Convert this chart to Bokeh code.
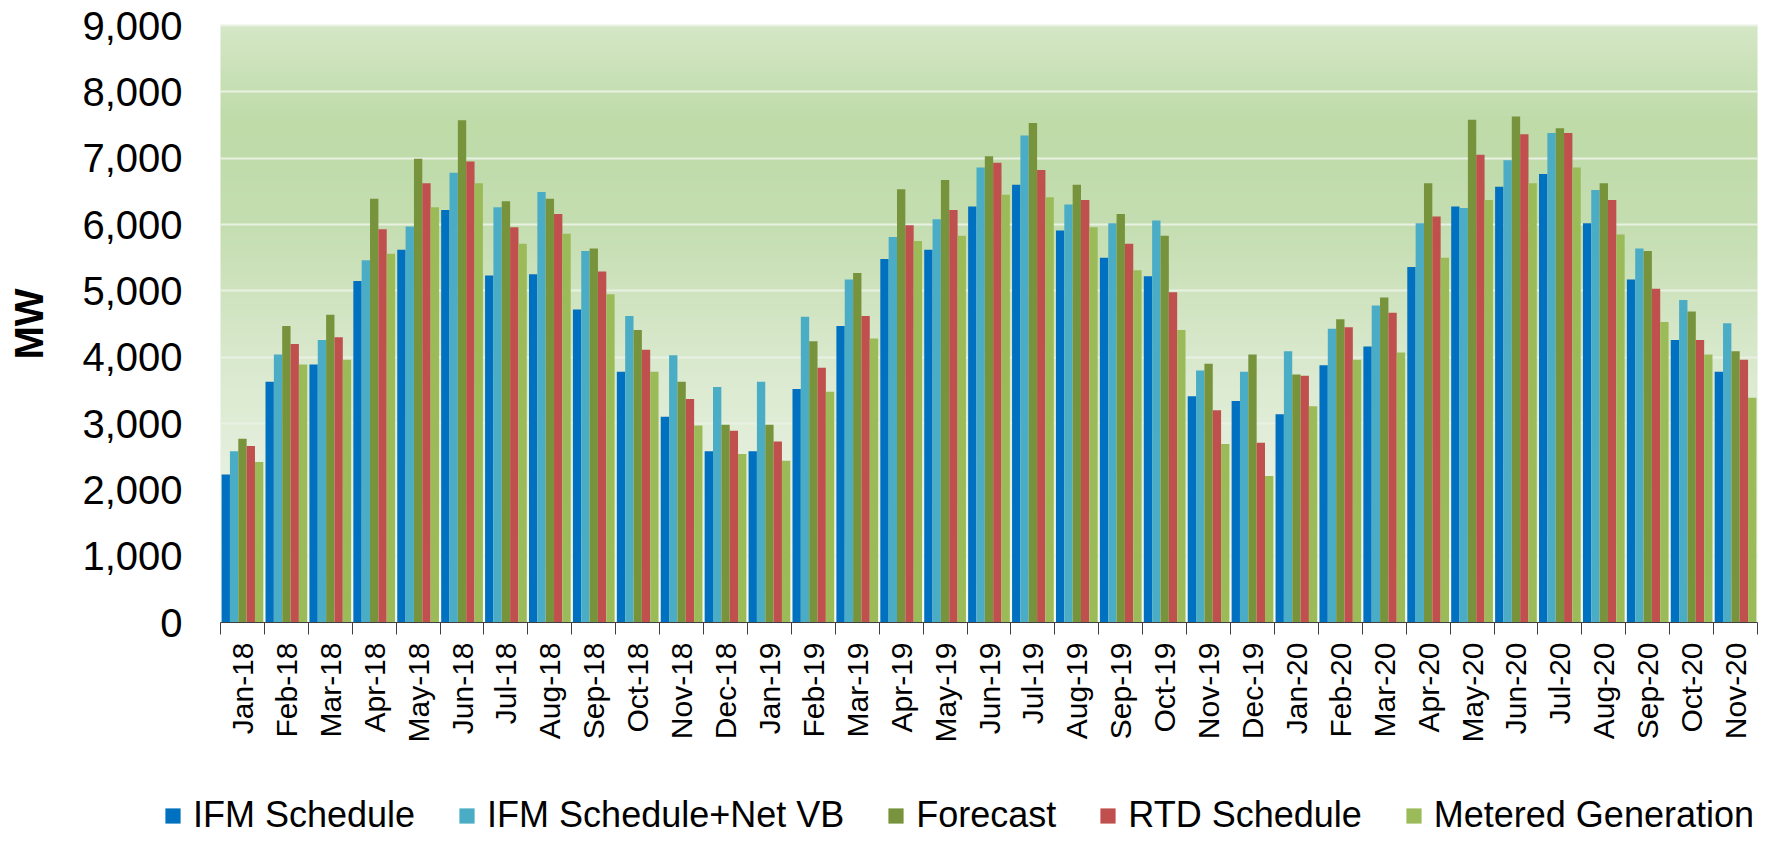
import math
import numpy as np
from bokeh.plotting import figure
from bokeh.models import ColumnDataSource, Range1d, FixedTicker, NumeralTickFormatter, Legend, LegendItem
from bokeh.transform import dodge
from bokeh.embed import file_html
from bokeh.resources import INLINE

months = ["Jan-18", "Feb-18", "Mar-18", "Apr-18", "May-18", "Jun-18", "Jul-18", "Aug-18",
          "Sep-18", "Oct-18", "Nov-18", "Dec-18", "Jan-19", "Feb-19", "Mar-19", "Apr-19",
          "May-19", "Jun-19", "Jul-19", "Aug-19", "Sep-19", "Oct-19", "Nov-19", "Dec-19",
          "Jan-20", "Feb-20", "Mar-20", "Apr-20", "May-20", "Jun-20", "Jul-20", "Aug-20",
          "Sep-20", "Oct-20", "Nov-20"]

ifm_schedule = [2230, 3630, 3890, 5150, 5620, 6220, 5230, 5250, 4720, 3780, 3100, 2580,
                2580, 3520, 4470, 5480, 5620, 6270, 6600, 5910, 5500, 5220, 3410, 3340,
                3140, 3880, 4160, 5360, 6270, 6570, 6760, 6020, 5170, 4260, 3780]
ifm_schedule_vb = [2580, 4040, 4260, 5460, 5970, 6780, 6260, 6490, 5600, 4620, 4030, 3550,
                   3630, 4610, 5170, 5810, 6080, 6860, 7340, 6300, 6020, 6060, 3800, 3780,
                   4090, 4430, 4780, 6020, 6250, 6970, 7380, 6520, 5640, 4860, 4510]
forecast = [2770, 4470, 4640, 6390, 6990, 7570, 6350, 6390, 5640, 4410, 3630, 2980,
            2980, 4240, 5270, 6530, 6670, 7030, 7530, 6600, 6160, 5830, 3900, 4040,
            3740, 4570, 4900, 6620, 7580, 7630, 7450, 6620, 5600, 4690, 4090]
rtd_schedule = [2660, 4200, 4300, 5930, 6620, 6950, 5960, 6160, 5290, 4110, 3370, 2890,
                2730, 3840, 4620, 5990, 6220, 6930, 6820, 6370, 5710, 4980, 3200, 2710,
                3720, 4450, 4670, 6120, 7050, 7360, 7380, 6370, 5030, 4260, 3960]
metered_generation = [2420, 3890, 3960, 5560, 6260, 6620, 5710, 5860, 4950, 3780, 2970, 2540,
                      2440, 3480, 4280, 5750, 5830, 6450, 6410, 5960, 5310, 4410, 2690, 2210,
                      3260, 3960, 4070, 5500, 6370, 6620, 6860, 5850, 4530, 4040, 3390]

series_names = ["IFM Schedule", "IFM Schedule+Net VB", "Forecast", "RTD Schedule", "Metered Generation"]
series_keys = ["ifm", "ifmvb", "fc", "rtd", "met"]
series_colors = ["#0070C0", "#4BACC6", "#77933C", "#C0504D", "#9BBB59"]

source = ColumnDataSource(dict(
    x=list(range(len(months))),
    ifm=ifm_schedule, ifmvb=ifm_schedule_vb, fc=forecast, rtd=rtd_schedule, met=metered_generation,
))

FONT = "Liberation Sans"

# figure geometry (pixels inside the figure)
W, H = 1787, 842
PL, PR = 220.0, 1757.0      # plot area left / right
PT, PB = 25.0, 622.0        # plot area top (9000) / bottom (0)
n = len(months)
YMAX = 9000
xs_per_px = n / (PR - PL)
ys_per_px = YMAX / (PB - PT)
x_start = -0.5 - PL * xs_per_px
x_end = n - 0.5 + (W - PR) * xs_per_px
y_start = -(H - PB) * ys_per_px
y_end = YMAX + PT * ys_per_px

p = figure(width=W, height=H, output_backend="svg", toolbar_location=None,
           x_range=Range1d(x_start, x_end), y_range=Range1d(y_start, y_end),
           min_border=0)
p.background_fill_color = "white"
p.border_fill_color = "white"
p.outline_line_color = None

# vertical gradient background of the plot area
ny = 400
ys = np.linspace(0, YMAX, ny)
sv = [0, 2000, 4000, 6000, 7500, 9000]
rr = np.interp(ys, sv, [247, 232, 217, 197, 190, 213])
gg = np.interp(ys, sv, [250, 241, 233, 222, 219, 231])
bb = np.interp(ys, sv, [244, 225, 205, 177, 168, 199])
img = np.empty((ny, 2), dtype=np.uint32)
view = img.view(dtype=np.uint8).reshape((ny, 2, 4))
view[:, :, 0] = rr[:, None]
view[:, :, 1] = gg[:, None]
view[:, :, 2] = bb[:, None]
view[:, :, 3] = 255
bg = p.image_rgba(image=[img], x=-0.5, y=0, dw=n, dh=YMAX)
bg.level = "image"

p.xgrid.visible = False
p.ygrid.ticker = FixedTicker(ticks=list(range(1000, YMAX + 1, 1000)))
p.ygrid.grid_line_color = "#e9f1e3"
p.ygrid.grid_line_width = 2
try:
    p.ygrid.cross_bounds = (-0.5, n - 0.5)
except Exception:
    p.ygrid.visible = False
    p.segment(x0=-0.5, x1=n - 0.5, y0=list(range(1000, YMAX + 1, 1000)),
              y1=list(range(1000, YMAX + 1, 1000)), line_color="#e9f1e3", line_width=2,
              level="underlay")

bw = 0.19
offsets = [-2 * bw, -bw, 0, bw, 2 * bw]
items = []
for key, name, col, off in zip(series_keys, series_names, series_colors, offsets):
    r = p.vbar(x=dodge("x", off, range=p.x_range), top=key, bottom=0, width=bw, source=source,
               fill_color=col, line_color=None)
    items.append(LegendItem(label=name, renderers=[r]))

legend = Legend(items=items, orientation="horizontal", location=(163, 6),
                glyph_width=19, glyph_height=19, label_standoff=11, spacing=42,
                padding=0, margin=0, border_line_color=None, background_fill_alpha=0,
                label_text_font=FONT, label_text_font_size="36px", label_text_color="black")
p.add_layout(legend)

# x axis, drawn at y = 0
xa = p.xaxis[0]
xa.fixed_location = 0
xa.bounds = (-0.5, n - 0.5)
xa.ticker = FixedTicker(ticks=list(range(n)),
                        minor_ticks=[i - 0.5 for i in range(n + 1)])
xa.major_label_overrides = {i: m for i, m in enumerate(months)}
xa.major_label_orientation = math.pi / 2
xa.major_tick_out = 0
xa.major_tick_in = 0
xa.minor_tick_out = 12
xa.minor_tick_in = 0
xa.minor_tick_line_color = "#404040"
xa.axis_line_color = "#404040"
xa.major_label_standoff = 8
xa.major_label_text_font = FONT
xa.major_label_text_font_size = "30px"
xa.major_label_text_color = "black"

# y axis, drawn at the left edge of the plot area
ya = p.yaxis[0]
ya.fixed_location = -0.5
ya.bounds = (0, YMAX)
ya.ticker = FixedTicker(ticks=list(range(0, YMAX + 1, 1000)))
ya.formatter = NumeralTickFormatter(format="0,0")
ya.axis_line_color = None
ya.major_tick_line_color = None
ya.minor_tick_line_color = None
ya.major_tick_out = 0
ya.major_label_standoff = 38
ya.major_label_text_font = FONT
ya.major_label_text_font_size = "40px"
ya.major_label_text_color = "black"
ya.axis_label = "MW"
ya.axis_label_text_font = FONT
ya.axis_label_text_font_size = "40px"
ya.axis_label_text_font_style = "bold"
ya.axis_label_text_color = "black"
ya.axis_label_standoff = 28

open("out.html", "w").write(file_html(p, INLINE))
